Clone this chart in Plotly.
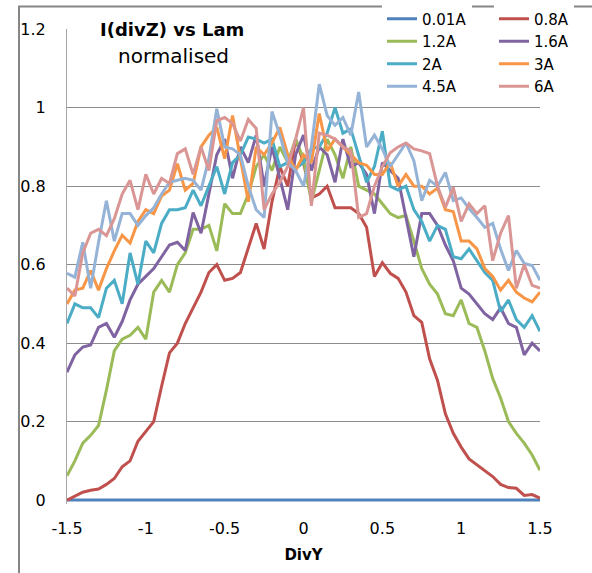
import plotly.graph_objects as go

# Divergence in Y (x axis)
div_y = [-1.5, -1.45, -1.4, -1.35, -1.3, -1.25, -1.2, -1.15, -1.1, -1.05,
         -1.0, -0.95, -0.9, -0.85, -0.8, -0.75, -0.7, -0.65, -0.6, -0.55,
         -0.5, -0.45, -0.4, -0.35, -0.3, -0.25, -0.2, -0.15, -0.1, -0.05,
         0.0, 0.05, 0.1, 0.15, 0.2, 0.25, 0.3, 0.35, 0.4, 0.45,
         0.5, 0.55, 0.6, 0.65, 0.7, 0.75, 0.8, 0.85, 0.9, 0.95,
         1.0, 1.05, 1.1, 1.15, 1.2, 1.25, 1.3, 1.35, 1.4, 1.45, 1.5]

# Normalised I(divZ) for each lamp current
i_001a = [0.0, 0.0, 0.0, 0.0, 0.0, 0.0, 0.0, 0.0, 0.0, 0.0,
          0.0, 0.0, 0.0, 0.0, 0.0, 0.0, 0.0, 0.0, 0.0, 0.0,
          0.0, 0.0, 0.0, 0.0, 0.0, 0.0, 0.0, 0.0, 0.0, 0.0,
          0.0, 0.0, 0.0, 0.0, 0.0, 0.0, 0.0, 0.0, 0.0, 0.0,
          0.0, 0.0, 0.0, 0.0, 0.0, 0.0, 0.0, 0.0, 0.0, 0.0,
          0.0, 0.0, 0.0, 0.0, 0.0, 0.0, 0.0, 0.0, 0.0, 0.0, 0.0]

i_08a = [0.0, 0.01, 0.02, 0.025, 0.028, 0.04, 0.055, 0.085, 0.10, 0.15,
         0.175, 0.20, 0.29, 0.375, 0.40, 0.45, 0.49, 0.53, 0.58, 0.60,
         0.56, 0.565, 0.58, 0.64, 0.705, 0.64, 0.76, 0.85, 0.80, 0.92,
         0.86, 0.77, 0.78, 0.80, 0.745, 0.745, 0.745, 0.73, 0.695, 0.57,
         0.605, 0.578, 0.565, 0.53, 0.47, 0.453, 0.36, 0.305, 0.22, 0.17,
         0.135, 0.105, 0.09, 0.075, 0.06, 0.04, 0.032, 0.03, 0.012, 0.014, 0.005]

i_12a = [0.062, 0.10, 0.145, 0.165, 0.19, 0.28, 0.38, 0.41, 0.42, 0.44,
         0.41, 0.53, 0.56, 0.53, 0.60, 0.63, 0.69, 0.69, 0.70, 0.635,
         0.755, 0.73, 0.73, 0.78, 0.85, 0.88, 0.84, 0.90, 0.86, 0.92,
         0.87, 0.76, 0.84, 0.92, 0.88, 0.82, 0.90, 0.80, 0.79, 0.78,
         0.755, 0.73, 0.72, 0.725, 0.66, 0.59, 0.55, 0.525, 0.475, 0.47,
         0.51, 0.45, 0.44, 0.38, 0.31, 0.26, 0.20, 0.17, 0.145, 0.115, 0.076]

i_16a = [0.326, 0.37, 0.39, 0.395, 0.44, 0.45, 0.415, 0.455, 0.51, 0.55,
         0.57, 0.59, 0.62, 0.65, 0.657, 0.636, 0.733, 0.68, 0.78, 0.88,
         0.92, 0.82, 0.90, 0.86, 0.93, 0.80, 0.90, 0.82, 0.74, 0.88,
         0.93, 0.84, 0.90, 0.88, 0.81, 0.92, 0.85, 0.86, 0.83, 0.73,
         0.86, 0.84, 0.82, 0.72, 0.62, 0.73, 0.73, 0.70, 0.65, 0.61,
         0.54, 0.525, 0.50, 0.475, 0.46, 0.49, 0.45, 0.44, 0.37, 0.40, 0.38]

i_2a = [0.45, 0.50, 0.49, 0.49, 0.465, 0.54, 0.56, 0.50, 0.63, 0.55,
        0.66, 0.63, 0.705, 0.74, 0.74, 0.745, 0.79, 0.75, 0.80, 0.85,
        0.78, 0.86, 0.88, 0.925, 0.92, 0.91, 0.92, 0.85, 0.86, 0.845,
        0.86, 0.895, 0.90, 0.935, 1.0, 0.935, 0.946, 0.878, 0.81, 0.85,
        0.94, 0.80, 0.79, 0.80, 0.74, 0.71, 0.66, 0.70, 0.69, 0.62,
        0.615, 0.64, 0.61, 0.58, 0.56, 0.48, 0.51, 0.46, 0.44, 0.47, 0.43]

i_3a = [0.50, 0.535, 0.54, 0.585, 0.535, 0.59, 0.635, 0.675, 0.655, 0.71,
        0.74, 0.73, 0.775, 0.79, 0.857, 0.79, 0.807, 0.90, 0.93, 0.95,
        0.87, 0.98, 0.87, 0.76, 0.90, 0.88, 0.91, 0.95, 0.88, 0.84,
        0.88, 0.86, 0.985, 0.89, 0.92, 0.90, 0.88, 0.86, 0.853, 0.83,
        0.83, 0.86, 0.80, 0.83, 0.80, 0.80, 0.78, 0.795, 0.74, 0.735,
        0.66, 0.66, 0.64, 0.59, 0.57, 0.535, 0.56, 0.53, 0.515, 0.505, 0.53]

i_45a = [0.578, 0.568, 0.657, 0.54, 0.657, 0.763, 0.66, 0.73, 0.73, 0.70,
         0.725, 0.745, 0.78, 0.81, 0.815, 0.82, 0.815, 0.79, 0.87, 0.997,
         0.90, 0.895, 0.88, 0.80, 0.74, 0.72, 0.99, 0.93, 0.86, 0.84,
         0.80, 0.90, 1.06, 0.98, 0.955, 0.975, 0.93, 1.04, 0.90, 0.93,
         0.895, 0.85, 0.88, 0.91, 0.865, 0.763, 0.815, 0.80, 0.835, 0.763,
         0.77, 0.743, 0.72, 0.695, 0.705, 0.64, 0.585, 0.636, 0.603, 0.598, 0.56]

i_6a = [0.54, 0.52, 0.63, 0.68, 0.69, 0.674, 0.717, 0.78, 0.815, 0.74,
        0.83, 0.78, 0.82, 0.807, 0.883, 0.895, 0.83, 0.90, 0.84, 0.967,
        0.975, 0.96, 0.915, 0.97, 0.947, 0.74, 0.78, 0.81, 0.85, 0.92,
        1.0, 0.75, 0.935, 0.93, 0.92, 0.90, 0.89, 0.72, 0.73, 0.80,
        0.85, 0.885, 0.90, 0.91, 0.895, 0.89, 0.883, 0.80, 0.746, 0.797,
        0.71, 0.755, 0.73, 0.75, 0.61, 0.68, 0.725, 0.54, 0.60, 0.547, 0.54]

series_names = ["0.01A", "0.8A", "1.2A", "1.6A", "2A", "3A", "4.5A", "6A"]
series_values = [i_001a, i_08a, i_12a, i_16a, i_2a, i_3a, i_45a, i_6a]
series_colors = ["#4F81BD", "#C0504D", "#9BBB59", "#8064A2",
                 "#4BACC6", "#F79646", "#95B3D7", "#D99694"]
# legend column for each series (two-column legend, filled row by row)
series_legend = ["legend", "legend2", "legend", "legend2",
                 "legend", "legend2", "legend", "legend2"]

FONT = "DejaVu Sans"
GRID = "#8c8c8c"

fig = go.Figure()
for name, vals, col, lg in zip(series_names, series_values, series_colors, series_legend):
    fig.add_trace(go.Scatter(x=div_y, y=vals, mode="lines", name=name,
                             line=dict(color=col, width=3), legend=lg))

# plot area in pixels: left 67, right 540, top 28.5, bottom 504
legend_style = dict(orientation="v", xanchor="left", y=(504 - 2) / 475.5, yanchor="top",
                    bgcolor="white", font=dict(family=FONT, size=15, color="black"),
                    traceorder="normal", tracegroupgap=0, itemsizing="trace")

fig.update_layout(
    width=592, height=573,
    margin=dict(l=67, r=52, t=28.5, b=69, pad=0, autoexpand=False),
    paper_bgcolor="white", plot_bgcolor="white",
    font=dict(family=FONT, size=16, color="black"),
    showlegend=True,
    legend=dict(x=(382 - 67) / 473, **legend_style),
    legend2=dict(x=(494 - 67) / 473, **legend_style),
    xaxis=dict(range=[-1.5, 1.5], tickmode="array",
               tickvals=[-1.5, -1.0, -0.5, 0.0, 0.5, 1.0, 1.5],
               ticktext=["-1.5", "-1", "-0.5", "0", "0.5", "1", "1.5"],
               showgrid=False, zeroline=False, showline=False, ticks="",
               ticklabelstandoff=13,
               tickfont=dict(family=FONT, size=16, color="black"),
               title=dict(text="<b>DivY</b>", standoff=12,
                          font=dict(family=FONT, size=15, color="black"))),
    yaxis=dict(range=[-0.01, 1.2005], tick0=0, dtick=0.2,
               showgrid=True, gridcolor=GRID, gridwidth=1, zeroline=False,
               showline=True, linecolor="#a6a6a6", linewidth=1, ticks="",
               ticklabelstandoff=17,
               tickfont=dict(family=FONT, size=16, color="black")),
)

# white strip behind the legend on the top gridline
fig.add_shape(type="rect", xref="paper", yref="paper",
              x0=(372 - 67) / 473, x1=1.01, y0=0.985, y1=1.012,
              line=dict(width=0), fillcolor="white", layer="between")

# chart frame
fig.add_shape(type="rect", xref="paper", yref="paper",
              x0=-0.1015, y0=-0.25, x1=1.3, y1=1.0473,
              line=dict(color="#868686", width=2), fillcolor="rgba(0,0,0,0)",
              layer="above")

# chart title
fig.add_annotation(xref="paper", yref="paper", x=(172 - 67) / 473, y=(504 - 29) / 475.5,
                   text="<b>I(divZ) vs Lam</b>", showarrow=False,
                   font=dict(family=FONT, size=18, color="black"),
                   bgcolor="white", borderpad=7, xanchor="center", yanchor="middle")
fig.add_annotation(xref="paper", yref="paper", x=(173 - 67) / 473, y=(504 - 56) / 475.5,
                   text="normalised", showarrow=False,
                   font=dict(family=FONT, size=20, color="black"),
                   xanchor="center", yanchor="middle")

fig.write_html("out.html")
